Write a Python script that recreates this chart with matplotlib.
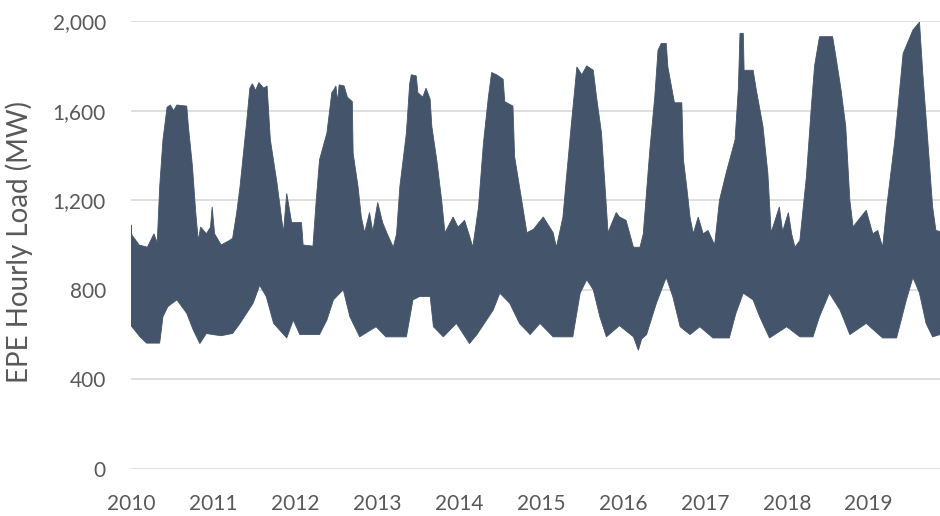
import numpy as np
import matplotlib
matplotlib.use("Agg")
import matplotlib.pyplot as plt
from matplotlib.ticker import FuncFormatter

# upper envelope of hourly load (year, MW)
upper_t = [2010.00, 2010.01, 2010.10, 2010.20, 2010.28, 2010.32, 2010.35, 2010.39, 2010.44, 2010.48,
           2010.52, 2010.56, 2010.68, 2010.70, 2010.75, 2010.79, 2010.82, 2010.85, 2010.92, 2010.97,
           2010.99, 2011.02, 2011.10, 2011.20, 2011.24, 2011.29, 2011.33, 2011.41, 2011.45, 2011.48,
           2011.52, 2011.56, 2011.62, 2011.66, 2011.70, 2011.78, 2011.86, 2011.90, 2011.96, 2012.08,
           2012.10, 2012.22, 2012.26, 2012.30, 2012.39, 2012.45, 2012.47, 2012.50, 2012.52, 2012.54,
           2012.60, 2012.64, 2012.70, 2012.71, 2012.77, 2012.81, 2012.85, 2012.91, 2012.95, 2013.01,
           2013.07, 2013.12, 2013.20, 2013.24, 2013.28, 2013.36, 2013.40, 2013.42, 2013.48, 2013.50,
           2013.56, 2013.60, 2013.65, 2013.67, 2013.73, 2013.79, 2013.83, 2013.93, 2013.99, 2014.07,
           2014.13, 2014.17, 2014.24, 2014.30, 2014.36, 2014.40, 2014.46, 2014.54, 2014.56, 2014.66,
           2014.68, 2014.74, 2014.83, 2014.91, 2015.03, 2015.15, 2015.19, 2015.27, 2015.31, 2015.37,
           2015.44, 2015.50, 2015.56, 2015.64, 2015.68, 2015.74, 2015.78, 2015.82, 2015.92, 2015.96,
           2016.04, 2016.13, 2016.21, 2016.25, 2016.33, 2016.39, 2016.43, 2016.47, 2016.53, 2016.55,
           2016.63, 2016.72, 2016.74, 2016.78, 2016.82, 2016.86, 2016.92, 2016.98, 2017.04, 2017.12,
           2017.18, 2017.26, 2017.37, 2017.41, 2017.43, 2017.47, 2017.48, 2017.59, 2017.63, 2017.71,
           2017.77, 2017.81, 2017.91, 2017.95, 2018.02, 2018.06, 2018.10, 2018.16, 2018.24, 2018.30,
           2018.34, 2018.40, 2018.56, 2018.60, 2018.66, 2018.72, 2018.77, 2018.81, 2018.85, 2018.97,
           2019.05, 2019.11, 2019.17, 2019.22, 2019.32, 2019.42, 2019.54, 2019.62, 2019.66, 2019.72,
           2019.78, 2019.82, 2019.87]
upper_mw = [1090, 1045, 1000, 990, 1050, 1010, 1260, 1470, 1615, 1625,
            1600, 1625, 1620, 1530, 1350, 1145, 1020, 1080, 1050, 1080,
            1170, 1050, 1000, 1020, 1030, 1145, 1260, 1545, 1700, 1720,
            1690, 1725, 1700, 1710, 1470, 1280, 1055, 1230, 1100, 1100,
            1000, 995, 1200, 1380, 1500, 1680, 1690, 1710, 1640, 1715,
            1710, 1660, 1640, 1410, 1260, 1125, 1055, 1145, 1060, 1190,
            1100, 1055, 990, 1050, 1260, 1500, 1720, 1760, 1755, 1680,
            1660, 1700, 1650, 1530, 1380, 1200, 1055, 1125, 1080, 1110,
            1040, 990, 1170, 1455, 1660, 1770, 1760, 1740, 1640, 1620,
            1395, 1260, 1055, 1070, 1125, 1055, 990, 1125, 1290, 1530,
            1795, 1760, 1800, 1780, 1660, 1500, 1280, 1055, 1145, 1125,
            1110, 990, 990, 1050, 1425, 1660, 1870, 1900, 1900, 1795,
            1635, 1635, 1380, 1260, 1125, 1050, 1125, 1050, 1065, 1000,
            1200, 1320, 1470, 1700, 1945, 1945, 1780, 1780, 1690, 1530,
            1320, 1055, 1170, 1060, 1145, 1050, 990, 1020, 1305, 1615,
            1800, 1930, 1930, 1840, 1700, 1530, 1200, 1080, 1100, 1155,
            1050, 1065, 990, 1170, 1470, 1855, 1960, 1995, 1765, 1470,
            1170, 1065, 1060]

# lower envelope of hourly load (year, MW)
lower_t = [2010.00, 2010.11, 2010.19, 2010.35, 2010.39, 2010.45, 2010.56, 2010.68, 2010.76, 2010.84,
           2010.92, 2011.00, 2011.10, 2011.24, 2011.33, 2011.49, 2011.57, 2011.65, 2011.74, 2011.90,
           2011.98, 2012.06, 2012.30, 2012.39, 2012.47, 2012.59, 2012.67, 2012.79, 2012.99, 2013.11,
           2013.36, 2013.44, 2013.52, 2013.65, 2013.69, 2013.81, 2013.97, 2014.13, 2014.22, 2014.42,
           2014.50, 2014.62, 2014.74, 2014.87, 2014.99, 2015.15, 2015.39, 2015.48, 2015.56, 2015.64,
           2015.72, 2015.80, 2015.96, 2016.13, 2016.19, 2016.23, 2016.29, 2016.41, 2016.53, 2016.61,
           2016.70, 2016.82, 2016.94, 2017.10, 2017.30, 2017.38, 2017.47, 2017.59, 2017.67, 2017.79,
           2018.00, 2018.16, 2018.32, 2018.40, 2018.52, 2018.65, 2018.77, 2018.97, 2019.17, 2019.34,
           2019.46, 2019.54, 2019.62, 2019.70, 2019.78, 2019.87]
lower_mw = [640, 590, 562, 562, 680, 725, 755, 695, 620, 560,
            605, 600, 595, 605, 650, 740, 820, 770, 650, 585,
            665, 600, 600, 665, 755, 800, 680, 590, 635, 590,
            590, 755, 770, 770, 635, 590, 650, 560, 600, 710,
            785, 740, 650, 600, 650, 590, 590, 785, 845, 800,
            680, 590, 640, 590, 530, 580, 600, 740, 855, 770,
            635, 600, 635, 585, 585, 695, 785, 755, 680, 585,
            635, 590, 590, 680, 785, 710, 600, 650, 585, 585,
            755, 855, 785, 650, 590, 600]

years = list(range(2010, 2020))
y_ticks = [0, 400, 800, 1200, 1600, 2000]

fill_color = "#44546A"
text_color = "#595959"
grid_color = "#D9D9D9"

plt.rcParams['font.family'] = ['Lato', 'DejaVu Sans']

fig = plt.figure(figsize=(9.4, 5.16), dpi=100)
ax = fig.add_axes([131 / 940, 47 / 516, 809 / 940, 448 / 516])

poly_t = np.concatenate([upper_t, lower_t[::-1]])
poly_mw = np.concatenate([upper_mw, lower_mw[::-1]])
ax.fill(poly_t, poly_mw, color=fill_color, linewidth=0.6, zorder=3)

ax.set_xlim(2010, 2019.87)
ax.set_ylim(0, 2000)
ax.set_yticks(y_ticks)
ax.yaxis.set_major_formatter(FuncFormatter(lambda v, p: f"{int(v):,}"))
ax.set_xticks(years)
ax.set_xticklabels([str(y) for y in years])

ax.grid(axis='y', color=grid_color, linewidth=1.2, zorder=0)
ax.grid(axis='x', visible=False)
for s in ax.spines.values():
    s.set_visible(False)

ax.tick_params(axis='both', length=0, labelsize=15, labelcolor=text_color)
ax.tick_params(axis='y', pad=18)
ax.tick_params(axis='x', pad=18)

ax.set_ylabel("EPE Hourly Load (MW)", fontsize=20, color=text_color)
ax.yaxis.set_label_coords(-0.121, 0.507)

fig.savefig("out.png", dpi=100)
